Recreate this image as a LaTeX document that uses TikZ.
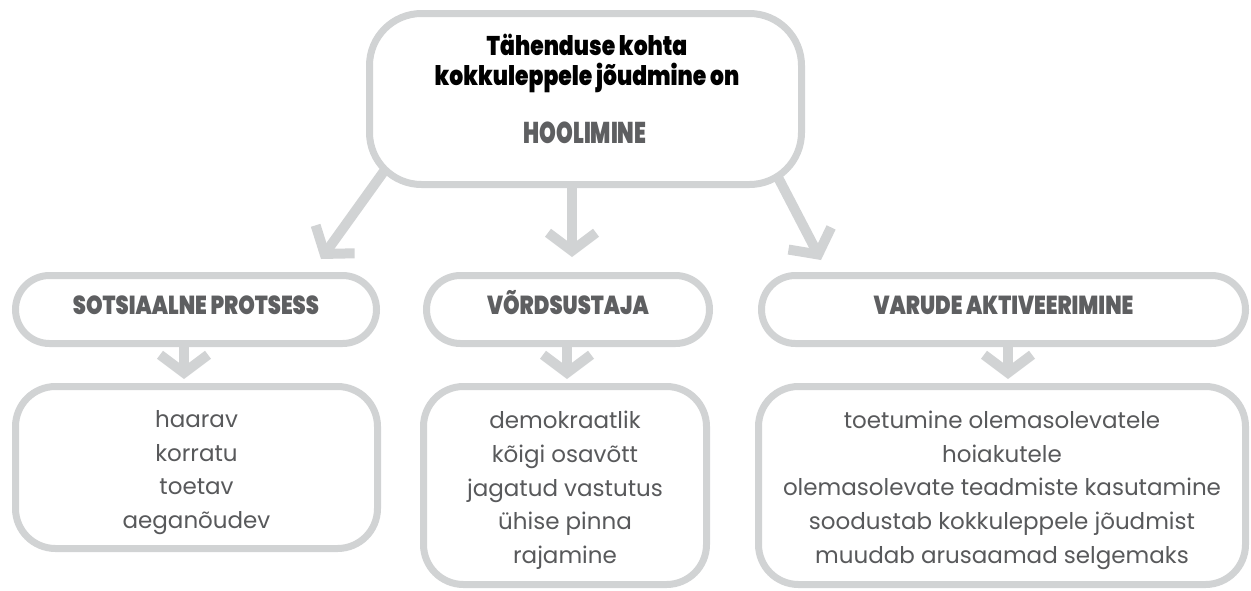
\documentclass[tikz,border=0pt]{standalone}
\usepackage{fontspec}
\usetikzlibrary{arrows.meta}
\setmainfont{Poppins}
\newfontfamily\headfont[FakeStretch=0.81]{Poppins Black}
\newfontfamily\carefont[FakeStretch=0.71]{Poppins Black}
\definecolor{frame}{HTML}{D1D3D4}
\definecolor{bodytext}{HTML}{58595B}
\definecolor{headtext}{HTML}{5E5F61}
\newcommand{\firstline}{\rule{0pt}{27pt}}
\tikzset{
  box/.style={draw=frame, line width=7pt, fill=white, inner sep=0pt, outer sep=0pt, align=center},
  pill/.style={box, rounded corners=34pt, minimum height=68pt, text height=18pt, text depth=8pt,
    font=\headfont\fontsize{26}{28}\selectfont, text=headtext},
  listbox/.style={box, rounded corners=40pt, font=\fontsize{23}{33.8}\selectfont, text=bodytext},
  flow/.style={draw=frame, line width=10pt, -{Straight Barb[length=18pt, width=48pt]}},
}
\begin{document}
\begin{tikzpicture}[x=1pt, y=-1pt]
\useasboundingbox (0,0) rectangle (1251,590);

% arrow ends
\coordinate (tipL) at (321,259);
\coordinate (tipM) at (572,257);
\coordinate (tipR) at (821,260);
\coordinate (tip1) at (184,379);
\coordinate (tip2) at (567,379);
\coordinate (tip3) at (1008,379);

% connectors, drawn first so the boxes cover their roots
\draw[flow] (410,135) -- (tipL);
\draw[flow] (572,150) -- (tipM);
\draw[flow] (757,137) -- (tipR);
\draw[flow] (184,320) -- (tip1);
\draw[flow] (567,320) -- (tip2);
\draw[flow] (1008,320) -- (tip3);

% top box
\node[box, rounded corners=52pt, minimum width=432pt, minimum height=171pt] (top) at (585.5,99) {};
\node[font=\headfont\fontsize{27}{30}\selectfont, align=center, anchor=base] (q) at (587,85)
  {Tähenduse kohta\\kokkuleppele jõudmine on};
\node[font=\carefont\fontsize{30}{32}\selectfont, text=headtext, anchor=base] (care) at (585,143) {HOOLIMINE};

% middle row
\node[pill, minimum width=361pt] (social) at (196,309.5) {SOTSIAALNE PROTSESS};
\node[pill, minimum width=283pt] (equal) at (568,309.5) {VÕRDSUSTAJA};
\node[pill, minimum width=484pt] (resource) at (1003.5,309.5) {VARUDE AKTIVEERIMINE};

% bottom row
\node[listbox, minimum width=362pt, minimum height=162pt] (l1) at (196.5,467.5)
  {\firstline haarav\\korratu\\toetav\\aeganõudev};
\node[listbox, minimum width=283pt, minimum height=198pt] (l2) at (565,485.5)
  {\firstline demokraatlik\\kõigi osavõtt\\jagatud vastutus\\ühise pinna\\rajamine};
\node[listbox, minimum width=487pt, minimum height=198pt] (l3) at (1002,485.5)
  {\firstline toetumine olemasolevatele\\hoiakutele\\olemasolevate teadmiste kasutamine\\soodustab kokkuleppele jõudmist\\muudab arusaamad selgemaks};
\end{tikzpicture}
\end{document}
